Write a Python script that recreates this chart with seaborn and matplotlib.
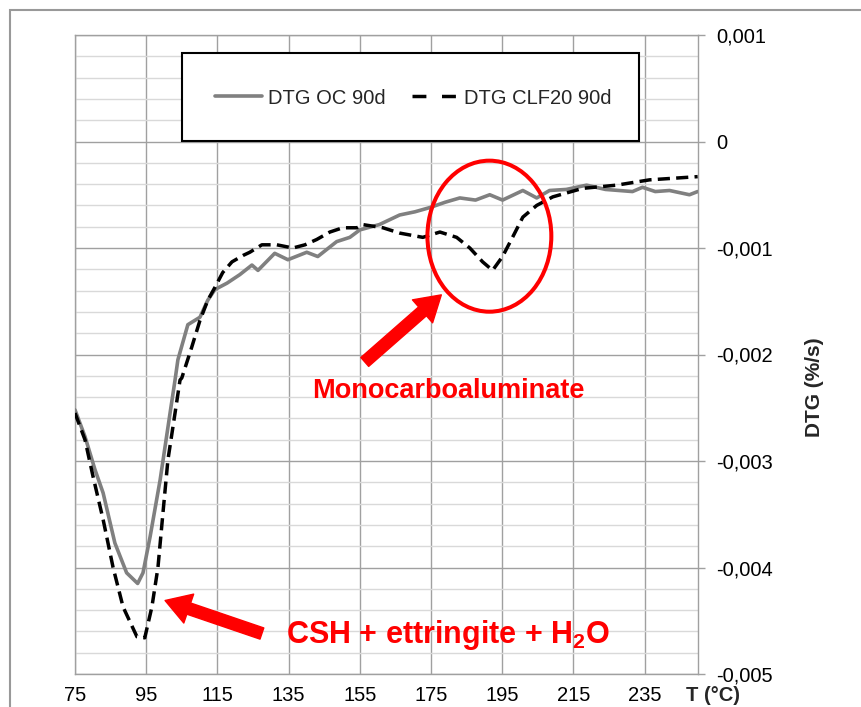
import matplotlib
matplotlib.use("Agg")
import matplotlib.pyplot as plt
import numpy as np
import pandas as pd
import seaborn as sns
from matplotlib.patches import Ellipse, Rectangle, FancyArrowPatch
from matplotlib.ticker import FixedLocator, MultipleLocator, FuncFormatter
from matplotlib.lines import Line2D

# ---------------- data ----------------
SERIES = ["DTG OC 90d", "DTG CLF20 90d"]

T_OC = [75.0, 77.8, 80.6, 82.9, 86.2, 89.5, 92.6, 94.1, 96.1, 98.9, 101.7, 103.1,
        103.9, 106.7, 110.1, 112.3, 114.3, 117.7, 121.3, 124.7, 126.4, 131.1, 134.8,
        140.1, 143.2, 148.5, 152.2, 155.0, 160.5, 166.2, 170.5, 174.7, 179.0, 183.1,
        187.5, 191.5, 195.1, 200.8, 204.7, 208.3, 213.0, 218.7, 224.0, 231.6, 234.4,
        238.0, 242.0, 247.6, 249.9]
DTG_OC = [-2.52, -2.77, -3.08, -3.30, -3.77, -4.05, -4.15, -4.05, -3.71, -3.18, -2.55, -2.24,
          -2.05, -1.72, -1.65, -1.49, -1.39, -1.33, -1.25, -1.16, -1.21, -1.05, -1.11,
          -1.04, -1.08, -0.94, -0.90, -0.83, -0.78, -0.69, -0.66, -0.62, -0.57, -0.53,
          -0.55, -0.50, -0.55, -0.46, -0.53, -0.46, -0.45, -0.41, -0.45, -0.47, -0.43,
          -0.47, -0.46, -0.50, -0.47]
DTG_OC = [v * 1e-3 for v in DTG_OC]

T_CLF = [75.0, 77.8, 80.1, 82.9, 85.7, 88.5, 92.4, 94.6, 96.6, 98.3, 99.7, 101.1,
         103.1, 104.5, 105.0, 107.8, 110.1, 112.3, 114.3, 116.5, 119.1, 122.2, 124.1,
         127.5, 131.7, 136.2, 139.6, 142.9, 146.6, 150.2, 154.2, 155.8, 161.5, 166.2,
         172.7, 177.5, 182.2, 185.9, 189.5, 192.3, 195.1, 197.9, 200.8, 204.7, 209.2,
         217.6, 227.1, 236.4, 249.9]
DTG_CLF = [-2.55, -2.80, -3.15, -3.55, -4.00, -4.37, -4.65, -4.66, -4.37, -4.00, -3.49, -2.99,
           -2.55, -2.24, -2.22, -1.93, -1.68, -1.49, -1.37, -1.23, -1.13, -1.07, -1.04,
           -0.97, -0.97, -1.00, -0.97, -0.92, -0.85, -0.81, -0.81, -0.78, -0.81, -0.86,
           -0.90, -0.85, -0.90, -1.00, -1.13, -1.21, -1.08, -0.90, -0.71, -0.60, -0.52,
           -0.44, -0.41, -0.36, -0.33]
DTG_CLF = [v * 1e-3 for v in DTG_CLF]

X_TICKS = [75, 95, 115, 135, 155, 175, 195, 215, 235]
Y_TICKS = [0.001, 0.0, -0.001, -0.002, -0.003, -0.004, -0.005]

LABEL_MONO = "Monocarboaluminate"
LABEL_CSH = r"CSH + ettringite + H$_\mathbf{2}$O"

# ---------------- style ----------------
sns.set_theme(style="white")
plt.rcParams["font.family"] = ["Liberation Sans", "DejaVu Sans"]
plt.rcParams["mathtext.fontset"] = "custom"
plt.rcParams["mathtext.rm"] = "Liberation Sans:bold"
plt.rcParams["mathtext.bf"] = "Liberation Sans:bold"
plt.rcParams["mathtext.it"] = "Liberation Sans:bold"

W, H = 862, 707
fig = plt.figure(figsize=(W / 100, H / 100), dpi=100)
fig.patch.set_facecolor("white")
ax = fig.add_axes([75 / W, 33 / H, 623 / W, 639 / H])

df_oc = pd.DataFrame({"T": T_OC, "DTG": DTG_OC})
df_clf = pd.DataFrame({"T": T_CLF, "DTG": DTG_CLF})

sns.lineplot(data=df_oc, x="T", y="DTG", ax=ax, color="#808080", linewidth=2.6,
             estimator=None, sort=False, zorder=3)
sns.lineplot(data=df_clf, x="T", y="DTG", ax=ax, color="black", linewidth=2.5,
             estimator=None, sort=False, zorder=4)
ax.lines[-1].set_dashes([3.5, 1.8])

ax.set_xlim(75, 250)
ax.set_ylim(-0.005, 0.001)
ax.xaxis.set_major_locator(FixedLocator(X_TICKS))
ax.yaxis.set_major_locator(FixedLocator(Y_TICKS))
ax.yaxis.set_minor_locator(MultipleLocator(0.0002))

def yfmt(v, pos):
    if abs(v) < 1e-12:
        return "0"
    return f"{v:.3f}".replace(".", ",")

ax.yaxis.set_major_formatter(FuncFormatter(yfmt))
ax.set_xlabel("")
ax.set_ylabel("")

ax.set_axisbelow(True)
ax.grid(which="minor", axis="y", color="#d9d9d9", linewidth=1.0)
ax.grid(which="major", axis="both", color="#a0a0a0", linewidth=1.0)
for sp in ax.spines.values():
    sp.set_color("#a0a0a0")
    sp.set_linewidth(1.0)

ax.yaxis.tick_right()
ax.tick_params(axis="y", which="major", right=True, left=False, length=5, width=1,
               color="#a0a0a0", direction="out", pad=8, labelsize=14.5, labelcolor="black")
ax.tick_params(axis="y", which="minor", length=0)
ax.tick_params(axis="x", which="both", length=0, pad=8.5, labelsize=14.5, labelcolor="black")

# legend box
ax.add_patch(Rectangle((0.1722, 0.8346), 0.7331, 0.1368, transform=ax.transAxes,
                       facecolor="white", edgecolor="black", linewidth=1.5, zorder=5))
handles = [Line2D([], [], color="#808080", linewidth=2.6),
           Line2D([], [], color="black", linewidth=2.5, dashes=(4.0, 4.5))]
leg = ax.legend(handles, SERIES, loc="center", bbox_to_anchor=(0.5433, 0.9014),
                frameon=False, ncol=2, fontsize=14.5, handlelength=2.3,
                handletextpad=0.3, columnspacing=1.3)
leg.set_zorder(6)

# annotations
ax.add_patch(Ellipse((191.4, -0.000889), 34.8, 0.001418, fill=False,
                     edgecolor="red", linewidth=2.9, zorder=6))
arrow_style = "simple,head_width=2.2,head_length=1.8,tail_width=0.85"
ax.add_patch(FancyArrowPatch((156.4, -0.00207), (177.9, -0.00144), arrowstyle=arrow_style,
                             mutation_scale=10, color="red", shrinkA=0, shrinkB=0, zorder=6))
ax.add_patch(FancyArrowPatch((127.5, -0.00462), (100.3, -0.00431), arrowstyle=arrow_style,
                             mutation_scale=10, color="red", shrinkA=0, shrinkB=0, zorder=6))
ax.text(180.0, -0.00241, LABEL_MONO, color="red", fontsize=19.5, fontweight="bold",
        ha="center", va="baseline", zorder=7)
ax.text(179.8, -0.00471, LABEL_CSH, color="red", fontsize=22, fontweight="bold",
        ha="center", va="baseline", zorder=7)

# axis titles
fig.text(713 / W, 1 - 695.5 / H, "T (°C)", fontsize=14.5, fontweight="bold",
         ha="center", va="center")
fig.text(815 / W, 1 - 387 / H, "DTG (%/s)", fontsize=15, fontweight="bold",
         rotation=90, ha="center", va="center")

# outer chart border
fig.add_artist(Rectangle((10 / W, -0.5), 2.0, 0.5 + 1 - 10 / H, transform=fig.transFigure,
                         fill=False, edgecolor="#999999", linewidth=1.5))

fig.savefig("out.png", dpi=100)
